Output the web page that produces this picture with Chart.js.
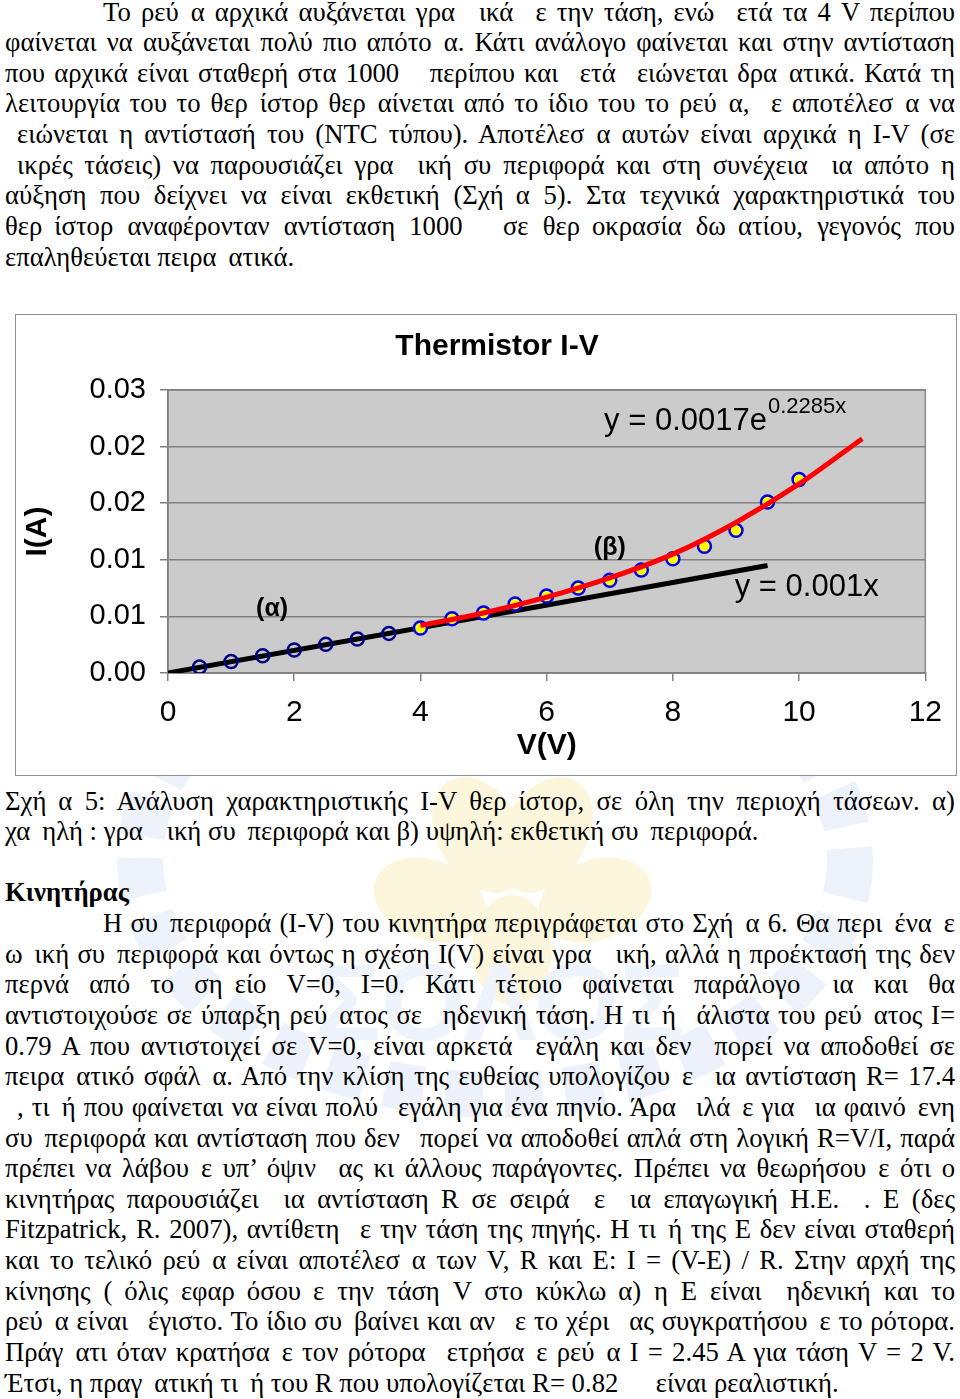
<!DOCTYPE html>
<html lang="el">
<head>
<meta charset="UTF-8">
<title>Thermistor I-V</title>
<script src="https://cdn.jsdelivr.net/npm/chart.js"></script>
<style>
    body {
        margin: 0;
        background: #fff;
    }
    #page {
        position: relative;
        width: 960px;
        height: 1399px;
        overflow: hidden;
    }
    /* faint school logo behind the lower text */
    #watermark {
        position: absolute;
        left: 0;
        top: 0;
        width: 960px;
        height: 1399px;
    }
    .text {
        position: absolute;
        left: 5px;
        width: 950px;
        font-family: 'Liberation Serif', 'Times New Roman', serif;
        font-size: 26.7px;
        line-height: 30.65px;
        color: #000;
    }
    #textTop { top: -3.5px; }
    #textBottom { top: 785.5px; }
    .line {
        height: 30.65px;
        text-align: justify;
        text-align-last: justify;
    }
    .line.last { text-align-last: left; }
    .line.indent { text-indent: 98px; }
    .line.bold { font-weight: bold; }
    .gap { display: inline-block; width: 0.45em; }

    .chart-box {
        position: absolute;
        left: 15px;
        top: 314px;
        width: 942px;
        height: 462px;
        border: 1px solid #8f8f8f;
        box-sizing: border-box;
        background: #fff;
    }
</style>
</head>
<body>
<div id="page">
    <svg id="watermark" viewBox="0 0 960 1399">
        <g opacity="0.55">
            <ellipse cx="495" cy="860" rx="355" ry="235" fill="none" stroke="#dfe7f8" stroke-width="46" stroke-dasharray="38 22"/>
            <ellipse cx="480" cy="835" rx="42" ry="62" fill="#fbf2c0" transform="rotate(-30 480 835)"/>
            <ellipse cx="545" cy="835" rx="42" ry="62" fill="#fbf2c0" transform="rotate(30 545 835)"/>
            <ellipse cx="430" cy="900" rx="40" ry="58" fill="#fbf2c0" transform="rotate(-70 430 900)"/>
            <ellipse cx="595" cy="900" rx="40" ry="58" fill="#fbf2c0" transform="rotate(70 595 900)"/>
            <ellipse cx="512" cy="950" rx="40" ry="55" fill="#fbf2c0"/>
            <text x="500" y="1040" text-anchor="middle" font-family="'Liberation Sans', Arial" font-weight="bold"
                  font-size="110" fill="#e3eafa">ΣΟΛΟΣ</text>
        </g>
    </svg>
    <div id="textTop" class="text"></div>
    <div class="chart-box"><canvas id="ivChart"></canvas></div>
    <div id="textBottom" class="text"></div>
</div>

<script>
    // measured points, region (α): low voltages, linear
    const voltsLow = [0.5, 1, 1.5, 2, 2.5, 3, 3.5];
    const currentLow = [0.00053, 0.00102, 0.00153, 0.00203, 0.00253, 0.0030, 0.0035];

    // measured points, region (β): high voltages, exponential
    const voltsHigh = [4, 4.5, 5, 5.5, 6, 6.5, 7, 7.5, 8, 8.5, 9, 9.5, 10];
    const currentHigh = [0.00397, 0.0048, 0.0053, 0.0061, 0.0068, 0.0075, 0.0082, 0.0091, 0.0101, 0.0112, 0.0126, 0.0151, 0.0171];

    // trendlines
    const linearFitV = [0, 9.5];
    const linearFitI = [0, 0.0095];
    const expFitV = [4, 5, 6, 7, 8, 9, 10, 11];
    const expFitI = [0.0042, 0.0053, 0.0067, 0.0084, 0.0105, 0.0133, 0.0167, 0.0207];

    // axis ticks (the y labels are rounded to 2 decimals like the original)
    const xTickValues = [0, 2, 4, 6, 8, 10, 12];
    const yTickValues = [0, 0.005, 0.01, 0.015, 0.02, 0.025];
    const yTickLabels = ['0.00', '0.01', '0.01', '0.02', '0.02', '0.03'];

    // page text, "_" marks a glyph that is missing in the original
    const topLines = [
        'Το ρεύ_α αρχικά αυξάνεται γρα__ικά _ε την τάση, ενώ _ετά τα 4 V περίπου',
        'φαίνεται να αυξάνεται πολύ πιο απότο_α. Κάτι ανάλογο φαίνεται και στην αντίσταση',
        'που αρχικά είναι σταθερή στα 1000 _ περίπου και _ετά _ειώνεται δρα_ατικά. Κατά τη',
        'λειτουργία του το θερ_ίστορ θερ_αίνεται από το ίδιο του το ρεύ_α, _ε αποτέλεσ_α να',
        '_ειώνεται η αντίστασή του (NTC τύπου). Αποτέλεσ_α αυτών είναι αρχικά η I-V (σε',
        '_ικρές τάσεις) να παρουσιάζει γρα__ική συ_περιφορά και στη συνέχεια _ια απότο_η',
        'αύξηση που δείχνει να είναι εκθετική (Σχή_α 5). Στα τεχνικά χαρακτηριστικά του',
        'θερ_ίστορ αναφέρονταν αντίσταση 1000 _ σε θερ_οκρασία δω_ατίου, γεγονός που',
        'επαληθεύεται πειρα_ατικά.'
    ];
    const bottomLines = [
        'Σχή_α 5: Ανάλυση χαρακτηριστικής I-V θερ_ίστορ, σε όλη την περιοχή τάσεων. α)',
        'χα_ηλή : γρα__ική συ_περιφορά και β) υψηλή: εκθετική συ_περιφορά.',
        '',
        'Κινητήρας',
        'Η συ_περιφορά (I-V) του κινητήρα περιγράφεται στο Σχή_α 6. Θα περι_ένα_ε',
        'ω_ική συ_περιφορά και όντως η σχέση I(V) είναι γρα__ική, αλλά η προέκτασή της δεν',
        'περνά από το ση_είο V=0, I=0. Κάτι τέτοιο φαίνεται παράλογο _ια και θα',
        'αντιστοιχούσε σε ύπαρξη ρεύ_ατος σε _ηδενική τάση. Η τι_ή _άλιστα του ρεύ_ατος I=',
        '0.79 A που αντιστοιχεί σε V=0, είναι αρκετά _εγάλη και δεν _πορεί να αποδοθεί σε',
        'πειρα_ατικό σφάλ_α. Από την κλίση της ευθείας υπολογίζου_ε _ια αντίσταση R= 17.4',
        '_, τι_ή που φαίνεται να είναι πολύ _εγάλη για ένα πηνίο. Άρα _ιλά_ε για _ια φαινό_ενη',
        'συ_περιφορά και αντίσταση που δεν _πορεί να αποδοθεί απλά στη λογική R=V/I, παρά',
        'πρέπει να λάβου_ε υπ’ όψιν _ας κι άλλους παράγοντες. Πρέπει να θεωρήσου_ε ότι ο',
        'κινητήρας παρουσιάζει _ια αντίσταση R σε σειρά _ε _ια επαγωγική Η.Ε. _. Ε (δες',
        'Fitzpatrick, R. 2007), αντίθετη _ε την τάση της πηγής. Η τι_ή της Ε δεν είναι σταθερή',
        'και το τελικό ρεύ_α είναι αποτέλεσ_α των V, R  και E:  I = (V-E) / R. Στην αρχή της',
        'κίνησης (_όλις εφαρ_όσου_ε την τάση V στο κύκλω_α) η Ε είναι _ηδενική και το',
        'ρεύ_α είναι _έγιστο. Το ίδιο συ_βαίνει και αν _ε το χέρι _ας συγκρατήσου_ε το ρότορα.',
        'Πράγ_ατι όταν κρατήσα_ε τον ρότορα _ετρήσα_ε ρεύ_α I = 2.45 A για τάση V = 2 V.',
        'Έτσι, η πραγ_ατική τι_ή του R που υπολογίζεται R= 0.82 __ είναι ρεαλιστική.'
    ];

    function fillText(el, lines, indents, lasts, bolds) {
        lines.forEach((t, i) => {
            const div = document.createElement('div');
            div.className = 'line';
            if (indents.includes(i)) div.classList.add('indent');
            if (lasts.includes(i)) div.classList.add('last');
            if (bolds.includes(i)) div.classList.add('bold', 'last');
            div.innerHTML = t.replace(/_/g, '<span class="gap"></span>') || '&nbsp;';
            el.appendChild(div);
            // squeeze a line a little if it would wrap
            let ls = 0;
            while (div.scrollHeight > 32 && ls > -2) {
                ls -= 0.1;
                div.style.letterSpacing = ls + 'px';
            }
        });
    }
    fillText(document.getElementById('textTop'), topLines, [0], [8], []);
    fillText(document.getElementById('textBottom'), bottomLines, [4], [1, 2, 19], [3]);

    const toPoints = (xs, ys) => xs.map((x, i) => ({x: x, y: ys[i]}));
    const sans = "'Liberation Sans', Arial, sans-serif";

    // grey plot area with a thin frame, like the spreadsheet chart
    const plotFrame = {
        id: 'plotFrame',
        beforeDraw(chart) {
            const {ctx, chartArea: a} = chart;
            ctx.save();
            ctx.fillStyle = '#cbcbcb';
            ctx.fillRect(a.left, a.top, a.width, a.height);
            ctx.strokeStyle = '#8a8a8a';
            ctx.lineWidth = 1.5;
            ctx.strokeRect(a.left, a.top, a.width, a.height);
            ctx.restore();
        }
    };

    // chart title and the labels placed in data coordinates
    const notes = [
        {text: '(α)', x: 1.65, y: 0.00567, bold: true, size: 25, align: 'center'},
        {text: '(β)', x: 7.0, y: 0.01106, bold: true, size: 25, align: 'center'},
        {text: 'y = 0.001x', x: 8.98, y: 0.00754, bold: false, size: 31, align: 'left'},
        {text: 'y = 0.0017e', sup: '0.2285x', x: 6.91, y: 0.0222, bold: false, size: 31, align: 'left'}
    ];
    const chartText = {
        id: 'chartText',
        afterDatasetsDraw(chart) {
            const {ctx, scales} = chart;
            ctx.save();
            ctx.fillStyle = '#000';
            ctx.textBaseline = 'middle';
            ctx.font = 'bold 30px ' + sans;
            ctx.textAlign = 'center';
            ctx.fillText('Thermistor I-V', 481, 32);
            notes.forEach(n => {
                const px = scales.x.getPixelForValue(n.x);
                const py = scales.y.getPixelForValue(n.y);
                ctx.font = (n.bold ? 'bold ' : '') + n.size + 'px ' + sans;
                ctx.textAlign = n.align;
                ctx.fillText(n.text, px, py);
                if (n.sup) {
                    const w = ctx.measureText(n.text).width;
                    ctx.font = '22px ' + sans;
                    ctx.textAlign = 'left';
                    ctx.fillText(n.sup, px + w + 1, py - 15);
                }
            });
            ctx.restore();
        }
    };

    const ivChart = new Chart(document.getElementById('ivChart'), {
        type: 'scatter',
        data: {
            datasets: [
                {
                    label: 'exponential fit',
                    data: toPoints(expFitV, expFitI),
                    showLine: true,
                    borderColor: '#ff0000',
                    borderWidth: 5,
                    pointRadius: 0,
                    cubicInterpolationMode: 'monotone',
                    order: 0
                },
                {
                    label: '(β)',
                    data: toPoints(voltsHigh, currentHigh),
                    pointRadius: 6.5,
                    pointBorderWidth: 2.5,
                    pointBackgroundColor: '#ffff00',
                    pointBorderColor: '#0000ee',
                    order: 1
                },
                {
                    label: '(α)',
                    data: toPoints(voltsLow, currentLow),
                    pointRadius: 6.5,
                    pointBorderWidth: 2.5,
                    pointBackgroundColor: 'rgba(0,0,0,0)',
                    pointBorderColor: '#000080',
                    order: 1
                },
                {
                    label: 'linear fit',
                    data: toPoints(linearFitV, linearFitI),
                    showLine: true,
                    borderColor: '#000',
                    borderWidth: 5,
                    pointRadius: 0,
                    order: 2
                }
            ]
        },
        options: {
            responsive: true,
            maintainAspectRatio: false,
            animation: false,
            layout: {padding: {top: 75, right: 27, left: 0, bottom: 0}},
            plugins: {
                legend: {display: false},
                tooltip: {enabled: false}
            },
            scales: {
                x: {
                    type: 'linear',
                    min: 0,
                    max: 12,
                    afterBuildTicks: s => { s.ticks = xTickValues.map(v => ({value: v})); },
                    afterFit: s => { s.height = 102; },
                    ticks: {color: '#000', padding: 14, font: {family: sans, size: 30}},
                    grid: {drawOnChartArea: false, tickLength: 8, color: '#808080', lineWidth: 1.5},
                    border: {color: '#808080', width: 1.5},
                    title: {
                        display: true, text: 'V(V)', color: '#000',
                        font: {family: sans, size: 30, weight: 'bold'},
                        padding: {top: 0, bottom: 11}
                    }
                },
                y: {
                    min: 0,
                    max: 0.025,
                    afterBuildTicks: s => { s.ticks = yTickValues.map(v => ({value: v})); },
                    afterFit: s => { s.width = 152; },
                    ticks: {
                        color: '#000', padding: 14, font: {family: sans, size: 29},
                        callback: (v, i) => yTickLabels[i]
                    },
                    grid: {tickLength: 8, color: '#808080', lineWidth: 1.5},
                    border: {color: '#808080', width: 1.5},
                    title: {
                        display: true, text: 'I(A)', color: '#000',
                        font: {family: sans, size: 30, weight: 'bold'},
                        padding: {top: 4, bottom: 0}
                    }
                }
            }
        },
        plugins: [plotFrame, chartText]
    });
</script>
</body>
</html>
